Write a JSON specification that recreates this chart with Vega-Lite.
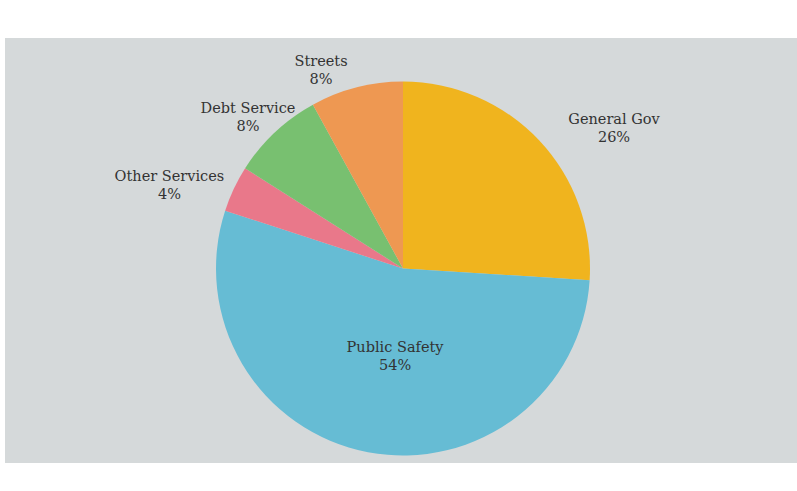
{
  "$schema": "https://vega.github.io/schema/vega-lite/v6.json",
  "width": 792,
  "height": 425,
  "autosize": "none",
  "padding": {"top": 38, "bottom": 28, "left": 5, "right": 0},
  "background": "#ffffff",
  "view": {"fill": "#d5d9da", "stroke": null},
  "data": {
    "values": [
      {"i": 1, "name": "General Gov", "value": 26},
      {"i": 2, "name": "Public Safety", "value": 54},
      {"i": 3, "name": "Other Services", "value": 4},
      {"i": 4, "name": "Debt Service", "value": 8},
      {"i": 5, "name": "Streets", "value": 8}
    ]
  },
  "transform": [
    {"calculate": "datum.name + '\\n' + datum.value + '%'", "as": "label"}
  ],
  "encoding": {
    "theta": {"field": "value", "type": "quantitative", "stack": true},
    "order": {"field": "i", "type": "ordinal"}
  },
  "layer": [
    {
      "mark": {"type": "arc", "outerRadius": 187, "x": {"expr": "width/2+2"}, "y": {"expr": "height/2+18"}},
      "encoding": {
        "color": {
          "field": "name",
          "type": "nominal",
          "legend": null,
          "scale": {
            "domain": ["General Gov", "Public Safety", "Other Services", "Debt Service", "Streets"],
            "range": ["#f0b41e", "#66bcd4", "#e9788a", "#78c070", "#ee9852"]
          }
        }
      }
    },
    {
      "mark": {"type": "text", "radius": 225, "dx": 47, "dy": 6, "x": {"expr": "width/2+2"}, "y": {"expr": "height/2+18"}, "lineBreak": "\n", "font": "DejaVu Serif", "fontSize": 14.5, "color": "#333333", "align": "center", "baseline": "middle", "lineHeight": 18},
      "encoding": {"text": {"condition": {"test": "datum.name == 'General Gov'", "field": "label"}, "value": ""}}
    },
    {
      "mark": {"type": "text", "radius": 225, "dx": -26, "dy": 11, "x": {"expr": "width/2+2"}, "y": {"expr": "height/2+18"}, "lineBreak": "\n", "font": "DejaVu Serif", "fontSize": 14.5, "color": "#333333", "align": "center", "baseline": "middle", "lineHeight": 18},
      "encoding": {"text": {"condition": {"test": "datum.name == 'Streets'", "field": "label"}, "value": ""}}
    },
    {
      "mark": {"type": "text", "radius": 225, "dx": -1, "dy": 5, "x": {"expr": "width/2+2"}, "y": {"expr": "height/2+18"}, "lineBreak": "\n", "font": "DejaVu Serif", "fontSize": 14.5, "color": "#333333", "align": "center", "baseline": "middle", "lineHeight": 18},
      "encoding": {"text": {"condition": {"test": "datum.name == 'Debt Service'", "field": "label"}, "value": ""}}
    },
    {
      "mark": {"type": "text", "radius": 225, "dx": -30, "dy": 4, "x": {"expr": "width/2+2"}, "y": {"expr": "height/2+18"}, "lineBreak": "\n", "font": "DejaVu Serif", "fontSize": 14.5, "color": "#333333", "align": "center", "baseline": "middle", "lineHeight": 18},
      "encoding": {"text": {"condition": {"test": "datum.name == 'Other Services'", "field": "label"}, "value": ""}}
    },
    {
      "mark": {"type": "text", "radius": 85, "dx": 8, "dy": -4, "x": {"expr": "width/2+2"}, "y": {"expr": "height/2+18"}, "lineBreak": "\n", "font": "DejaVu Serif", "fontSize": 14.5, "color": "#333333", "align": "center", "baseline": "middle", "lineHeight": 18},
      "encoding": {"text": {"condition": {"test": "datum.name == 'Public Safety'", "field": "label"}, "value": ""}}
    }
  ]
}
